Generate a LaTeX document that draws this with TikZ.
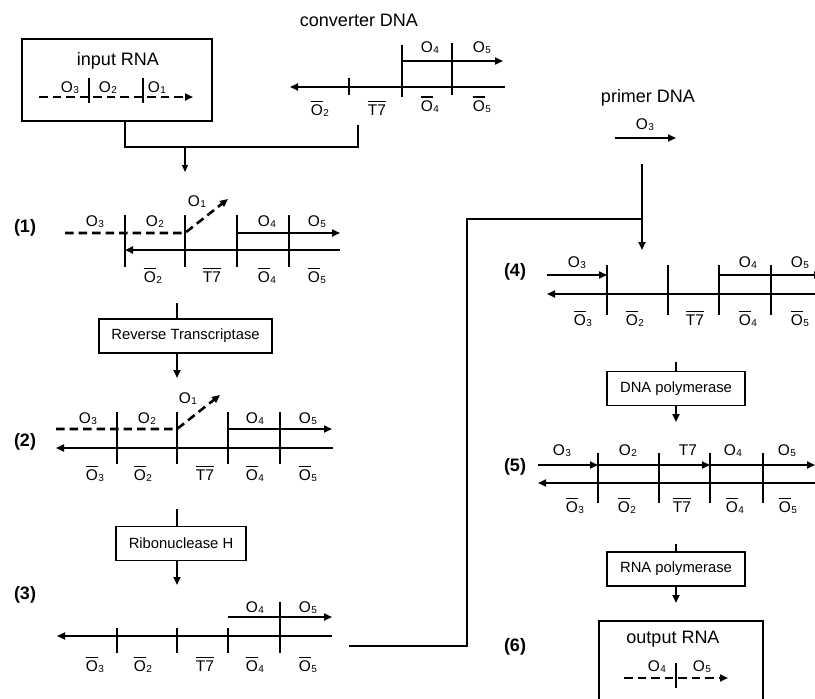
\documentclass[tikz,border=0pt]{standalone}
\usepackage{fontspec}
\setmainfont{Liberation Sans}
\usetikzlibrary{arrows.meta,positioning,calc}

\tikzset{
  strand/.style  = {line width=1.8pt},
  rna/.style     = {line width=2.6pt, dash pattern=on 8.5pt off 5pt},
  arr/.style     = {-{Triangle[length=8pt,width=7pt]}},
  smallarr/.style= {-{Triangle[length=7pt,width=6pt]}},
  flow/.style    = {line width=2.6pt},
  link/.style    = {line width=2.2pt},
  bracket/.style = {line width=2pt},
  enzyme/.style  = {rectangle, draw, line width=1.4pt, minimum height=34pt,
                    font=\fontsize{14.8}{16}\selectfont},
  tube/.style    = {rectangle, draw, line width=1.6pt},
  title/.style   = {font=\fontsize{18}{20}\selectfont, inner sep=0pt},
  lab/.style     = {font=\fontsize{15.5}{15.5}\selectfont, inner sep=0pt, anchor=base},
  stepno/.style  = {font=\fontsize{18}{20}\selectfont\bfseries, inner sep=0pt},
}
\newcommand{\sub}[1]{\kern.4pt\raisebox{-1pt}{\fontsize{10}{10}\selectfont #1}}
\newcommand{\cmpl}[1]{\vbox{\hrule height 1.4pt\kern 2.6pt\hbox{#1}}}
\newcommand{\Ol}[1]{O\sub{#1}}
\newcommand{\Oc}[1]{\cmpl{O}\sub{#1}}

\begin{document}
\begin{tikzpicture}[x=1pt, y=-1pt]
\clip (0,0) rectangle (815,699);

% input RNA and converter DNA
\node[tube, minimum width=190pt, minimum height=82pt] (inbox) at (117,80) {};
\node[title] (intitle) at (118,61) {input RNA};
\draw[rna, arr] (39,97) -- (193,97);
\foreach \x in {89,143} \draw[strand] (\x,78) -- (\x,103);
\node[lab] (in3) at (70,92) {\Ol{3}};
\node[lab] (in2) at (108,92) {\Ol{2}};
\node[lab] (in1) at (157,92) {\Ol{1}};

\node[title] (convtitle) at (359,20) {converter DNA};
\draw[strand, arr] (505,87) -- (290,87);
\draw[strand, arr] (402,61) -- (503,61);
\draw[strand] (349,78) -- (349,95);
\draw[strand] (402,45) -- (402,97);
\draw[strand] (452,43) -- (452,95);
\node[lab] (cv4) at (430,52.5) {\Ol{4}};
\node[lab] (cv5) at (482,52.5) {\Ol{5}};
\node[lab] (cvc2) at (320,115.5) {\Oc{2}};
\node[lab] (cvt7) at (377,115.5) {\cmpl{T7}};
\node[lab] (cvc4) at (430,111) {\Oc{4}};
\node[lab] (cvc5) at (482,111) {\Oc{5}};

% mixing bracket
\coordinate (b1) at (125,121);
\coordinate (b2) at (358,125);
\coordinate (bmid) at (185,147);
\coordinate (r1in) at (185,172);
\draw[bracket] (b1) |- (bmid) -| (b2);
\draw[line width=1.4pt, smallarr] (bmid) -- (r1in);

% primer DNA
\node[title] (primtitle) at (648,98) {primer DNA};
\node[lab] (prim3) at (645,129.5) {\Ol{3}};
\draw[strand, arr] (615,138) -- (676,138);

% step (1)
\node[stepno] (s1) at (25,228) {(1)};
\draw[rna, arr] (65,233) -- (185,233) -- (228,199);
\draw[strand, arr] (237,233) -- (340,233);
\draw[strand, arr] (340,250) -- (125,250);
\foreach \x in {125,185,237,289} \draw[strand] (\x,215) -- (\x,267);
\node[lab] (a3) at (95,226.5) {\Ol{3}};
\node[lab] (a2) at (155,226.5) {\Ol{2}};
\node[lab] (a1) at (197,206.5) {\Ol{1}};
\node[lab] (a4) at (267,226.5) {\Ol{4}};
\node[lab] (a5) at (317,226.5) {\Ol{5}};
\node[lab] (ac2) at (153,282.5) {\Oc{2}};
\node[lab] (at7) at (212,282.5) {\cmpl{T7}};
\node[lab] (ac4) at (267,282.5) {\Oc{4}};
\node[lab] (ac5) at (317,282.5) {\Oc{5}};

% Reverse Transcriptase
\node[enzyme, minimum width=173pt] (rt) at (185.5,336) {Reverse Transcriptase};
\coordinate (rtin) at (177,303);
\coordinate (r2in) at (177,378);
\draw[link] (rtin) -- (rtin |- rt.north);
\draw[link, arr] (rtin |- rt.south) -- (r2in);

% step (2)
\node[stepno] (s2) at (25,442) {(2)};
\draw[rna, arr] (56,429) -- (177,429) -- (220,395);
\draw[strand, arr] (228,429) -- (332,429);
\draw[strand, arr] (333,448) -- (56,448);
\foreach \x in {117,177,228,280} \draw[strand] (\x,412) -- (\x,464);
\node[lab] (b3) at (88,423.5) {\Ol{3}};
\node[lab] (b2l) at (147,423.5) {\Ol{2}};
\node[lab] (b1l) at (188,403.5) {\Ol{1}};
\node[lab] (b4) at (255,423.5) {\Ol{4}};
\node[lab] (b5) at (308,423.5) {\Ol{5}};
\node[lab] (bc3) at (95,480.5) {\Oc{3}};
\node[lab] (bc2) at (143,480.5) {\Oc{2}};
\node[lab] (bt7) at (205,480.5) {\cmpl{T7}};
\node[lab] (bc4) at (255,480.5) {\Oc{4}};
\node[lab] (bc5) at (308,480.5) {\Oc{5}};

% Ribonuclease H
\node[enzyme, minimum width=130pt] (rh) at (181,543.5) {Ribonuclease H};
\coordinate (rhin) at (177,509);
\coordinate (r3in) at (177,585);
\draw[link] (rhin) -- (rhin |- rh.north);
\draw[link, arr] (rhin |- rh.south) -- (r3in);

% step (3)
\node[stepno] (s3) at (25,595) {(3)};
\draw[strand, arr] (332,636) -- (57,636);
\draw[strand, arr] (228,617) -- (332,617);
\foreach \x in {117,177,228} \draw[strand] (\x,628) -- (\x,653);
\draw[strand] (280,602) -- (280,653);
\node[lab] (c4) at (255,612.5) {\Ol{4}};
\node[lab] (c5) at (308,612.5) {\Ol{5}};
\node[lab] (cc3) at (95,671.5) {\Oc{3}};
\node[lab] (cc2) at (143,671.5) {\Oc{2}};
\node[lab] (ct7) at (205,671.5) {\cmpl{T7}};
\node[lab] (cc4) at (255,671.5) {\Oc{4}};
\node[lab] (cc5) at (308,671.5) {\Oc{5}};

% route from (3) and primer into (4)
\coordinate (r3out) at (349,646);
\coordinate (turn1) at (467,646);
\coordinate (turn2) at (467,219);
\coordinate (join) at (642,219);
\coordinate (pdown) at (642,164);
\coordinate (r4in) at (642,250);
\draw[flow] (r3out) -- (turn1) -- (turn2) -- (join);
\draw[flow, arr] (pdown) -- (r4in);

% step (4)
\node[stepno] (s4) at (515,272) {(4)};
\draw[strand, arr] (547,275) -- (607,275);
\draw[strand, arr] (719,275) -- (822,275);
\draw[strand, arr] (820,294) -- (547,294);
\foreach \x in {607,668,719,771} \draw[strand] (\x,265) -- (\x,315);
\node[lab] (d3) at (577,267.5) {\Ol{3}};
\node[lab] (d4) at (748,267.5) {\Ol{4}};
\node[lab] (d5) at (800,267.5) {\Ol{5}};
\node[lab] (dc3) at (583,325.5) {\Oc{3}};
\node[lab] (dc2) at (635,325.5) {\Oc{2}};
\node[lab] (dt7) at (695,325.5) {\cmpl{T7}};
\node[lab] (dc4) at (748,325.5) {\Oc{4}};
\node[lab] (dc5) at (800,325.5) {\Oc{5}};

% DNA polymerase
\node[enzyme, minimum width=138pt] (dpol) at (676,388.5) {DNA polymerase};
\coordinate (dpolin) at (676,362);
\coordinate (r5in) at (676,422);
\draw[link] (dpolin) -- (dpol.north);
\draw[link, arr] (dpol.south) -- (r5in);

% step (5)
\node[stepno] (s5) at (515,467) {(5)};
\draw[strand, arr] (538,465) -- (598,465);
\draw[strand, arr] (598,465) -- (710,465);
\draw[strand, arr] (710,465) -- (815,465);
\draw[strand, arr] (820,483) -- (538,483);
\foreach \x in {598,659,710,763} \draw[strand] (\x,453) -- (\x,503);
\node[lab] (e3) at (562,455.5) {\Ol{3}};
\node[lab] (e2) at (628,455.5) {\Ol{2}};
\node[lab] (et7u) at (688,455.5) {T7};
\node[lab] (e4) at (733,455.5) {\Ol{4}};
\node[lab] (e5) at (787,455.5) {\Ol{5}};
\node[lab] (ec3) at (575,512.5) {\Oc{3}};
\node[lab] (ec2) at (627,512.5) {\Oc{2}};
\node[lab] (et7) at (682,512.5) {\cmpl{T7}};
\node[lab] (ec4) at (735,512.5) {\Oc{4}};
\node[lab] (ec5) at (788,512.5) {\Oc{5}};

% RNA polymerase
\node[enzyme, minimum width=138pt] (rpol) at (676,569) {RNA polymerase};
\coordinate (rpolin) at (676,544);
\coordinate (r6in) at (676,603);
\draw[link] (rpolin) -- (rpol.north);
\draw[link, arr] (rpol.south) -- (r6in);

% step (6) output RNA
\node[stepno] (s6) at (515,647) {(6)};
\node[tube, minimum width=164pt, minimum height=98pt] (outbox) at (681,670) {};
\node[title] (outtitle) at (673,639) {output RNA};
\draw[rna, arr] (624,678) -- (728,678);
\draw[strand] (676,663) -- (676,688);
\node[lab] (f4) at (657,671) {\Ol{4}};
\node[lab] (f5) at (702,671) {\Ol{5}};

\end{tikzpicture}
\end{document}
